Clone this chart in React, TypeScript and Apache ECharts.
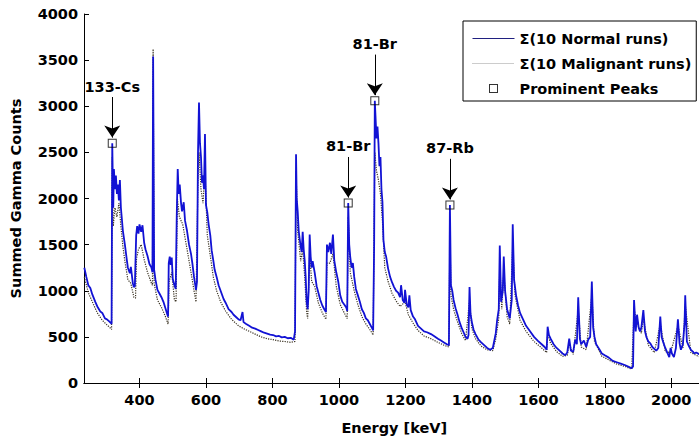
import React, { useEffect, useRef } from "react";
import * as echarts from "echarts";

const xTickValues = [400, 600, 800, 1000, 1200, 1400, 1600, 1800, 2000];
const seriesNames = ["\u03A3(10 Normal runs)", "\u03A3(10 Malignant runs)", "Prominent Peaks"];

const normalSpectrum: [number, number][] = [
  [234,1250],[240,1150],[246,1060],[252,1030],[258,960],[267,880],[273,830],[282,775],[288,760],[296,700],[302,690],[308,670],[314,650],[316,640],
  [318,2600],[321,1900],[323,2320],[326,2100],[329,2250],[332,2050],[335,2150],[338,1980],[341,2200],[344,1900],[350,1650],[356,1500],[362,1330],[365,1250],
  [371,1190],[374,1260],[380,1080],[383,1040],[386,1050],[390,1600],[393,1700],[397,1620],[400,1720],[405,1640],[409,1710],[414,1520],[418,1450],[424,1380],
  [430,1290],[436,1250],[439,1200],[441,3540],[444,1230],[448,1120],[454,1010],[460,970],[466,930],[472,880],[478,810],[484,740],[486,720],[488,1300],
  [491,1370],[494,1280],[497,1360],[500,1130],[505,1060],[509,1020],[512,1800],[515,2320],[518,2050],[521,2150],[525,1950],[528,1860],[533,1960],[537,1760],
  [543,1650],[549,1500],[555,1400],[559,1300],[564,1150],[570,1010],[573,1100],[576,2500],[579,3040],[582,2600],[585,2450],[588,2170],[591,2250],[594,2100],
  [597,2700],[600,1930],[604,1850],[608,1720],[613,1600],[617,1440],[622,1330],[626,1230],[632,1150],[638,1060],[644,1000],[653,910],[659,870],[668,800],
  [677,770],[683,740],[692,710],[698,690],[704,680],[710,770],[713,660],[721,640],[730,620],[739,600],[748,590],[757,575],[766,560],[775,545],[784,535],
  [793,525],[802,520],[811,505],[820,510],[828,495],[837,500],[846,485],[855,490],[864,470],[868,560],[871,2480],[873,2000],[876,1860],[879,1650],[882,1560],
  [885,1480],[888,1420],[891,1640],[894,1450],[897,1330],[900,1150],[903,880],[906,800],[909,1000],[912,1610],[915,1370],[918,1250],[921,1320],[927,1200],
  [933,1050],[938,980],[944,900],[950,840],[956,800],[961,770],[964,1500],[968,1420],[973,1520],[977,1400],[982,1610],[986,1330],[992,1200],[998,1100],
  [1004,950],[1010,880],[1016,850],[1022,820],[1025,780],[1028,1950],[1031,1500],[1034,1370],[1038,1250],[1042,1300],[1046,1150],[1051,1020],[1057,950],
  [1063,880],[1069,800],[1075,760],[1081,700],[1087,680],[1093,640],[1099,600],[1103,570],[1106,1500],[1108,3060],[1110,2900],[1113,2650],[1116,2780],
  [1119,2600],[1122,2350],[1125,2450],[1128,2100],[1131,1960],[1134,1550],[1138,1420],[1142,1370],[1148,1240],[1154,1150],[1160,1090],[1166,1040],[1172,1000],
  [1178,980],[1184,930],[1187,1060],[1192,900],[1197,870],[1199,1010],[1204,850],[1209,820],[1212,950],[1216,790],[1223,720],[1229,690],[1238,620],[1247,590],
  [1256,560],[1265,550],[1277,530],[1286,510],[1298,480],[1307,460],[1316,440],[1325,420],[1331,410],[1334,1930],[1337,1060],[1341,1000],[1345,900],[1351,810],
  [1357,740],[1363,660],[1369,600],[1375,550],[1381,500],[1387,480],[1390,520],[1393,1040],[1396,750],[1400,660],[1405,580],[1411,530],[1420,470],[1428,440],
  [1437,410],[1446,380],[1455,360],[1463,380],[1467,450],[1472,540],[1476,680],[1481,800],[1484,1490],[1488,880],[1493,1000],[1496,1370],[1500,1000],[1506,800],
  [1514,700],[1520,900],[1523,1720],[1527,1120],[1533,950],[1539,840],[1545,760],[1554,690],[1563,620],[1575,560],[1587,500],[1598,460],[1610,420],[1619,390],
  [1625,360],[1628,610],[1632,520],[1637,480],[1646,420],[1655,380],[1664,350],[1673,320],[1681,300],[1687,330],[1693,480],[1698,350],[1705,340],[1711,470],
  [1716,420],[1720,930],[1725,480],[1729,420],[1737,460],[1744,390],[1750,470],[1756,500],[1761,1100],[1765,600],[1769,500],[1774,420],[1783,370],[1791,320],
  [1800,300],[1812,275],[1824,240],[1836,225],[1848,210],[1860,195],[1872,175],[1881,160],[1885,180],[1888,900],[1893,560],[1897,740],[1902,600],[1906,560],
  [1910,600],[1916,790],[1921,560],[1925,500],[1931,450],[1937,430],[1943,390],[1949,370],[1955,350],[1961,380],[1967,720],[1971,500],[1976,440],[1982,380],
  [1988,330],[1994,280],[1998,380],[2002,320],[2008,280],[2014,380],[2020,690],[2025,430],[2029,360],[2035,420],[2040,650],[2042,950],[2047,450],[2053,400],
  [2059,360],[2065,340],[2069,320],[2075,330],[2085,310],[2095,290]
];

const malignantSpectrum: [number, number][] = [
  [234,1150],[246,980],[258,880],[273,760],[288,680],[302,630],[314,590],[316,580],[318,2450],[321,1700],[326,1900],[332,1800],[338,1950],[344,1700],
  [350,1480],[356,1320],[365,1120],[374,1080],[383,930],[388,920],[391,1350],[397,1450],[405,1500],[414,1340],[424,1200],[436,1080],[439,1060],[441,3620],
  [444,1080],[454,900],[466,820],[478,720],[486,640],[489,1100],[497,1200],[505,900],[510,880],[514,2000],[520,1800],[530,1720],[543,1450],[555,1200],
  [564,1000],[570,880],[576,2200],[579,2500],[585,2100],[591,1950],[597,2300],[604,1600],[613,1380],[622,1150],[632,1000],[644,880],[659,780],[677,690],
  [698,620],[713,590],[730,560],[748,530],[766,500],[784,480],[802,470],[820,455],[837,450],[855,440],[868,450],[871,2300],[876,1650],[885,1320],[891,1450],
  [897,1150],[903,760],[906,700],[912,1400],[918,1100],[927,1050],[938,870],[950,760],[961,690],[964,1300],[973,1300],[982,1400],[992,1050],[1004,850],
  [1016,760],[1025,700],[1028,1800],[1034,1200],[1046,1000],[1057,850],[1069,720],[1081,640],[1093,580],[1103,520],[1108,2500],[1113,2300],[1119,2200],
  [1125,2050],[1131,1750],[1138,1250],[1148,1100],[1160,970],[1172,890],[1184,830],[1199,880],[1209,740],[1223,650],[1238,570],[1256,510],[1277,480],
  [1298,440],[1316,410],[1331,390],[1334,1700],[1337,950],[1345,800],[1357,660],[1369,540],[1381,460],[1393,900],[1400,590],[1411,480],[1428,400],
  [1446,360],[1463,350],[1472,480],[1481,700],[1484,1300],[1490,800],[1496,1200],[1506,720],[1514,640],[1523,1500],[1530,950],[1545,680],[1563,560],
  [1587,450],[1610,380],[1625,330],[1628,530],[1637,430],[1655,340],[1673,290],[1687,300],[1693,420],[1705,310],[1720,800],[1729,390],[1744,360],
  [1761,950],[1769,450],[1791,290],[1812,250],[1836,205],[1860,180],[1881,150],[1888,800],[1897,650],[1910,540],[1916,700],[1931,410],[1949,330],
  [1967,640],[1982,340],[1998,330],[2020,620],[2035,380],[2042,850],[2059,330],[2075,300],[2095,270]
];

const peakEnergy = [318, 1028, 1108, 1334];
const peakCounts = [2600, 1950, 3060, 1930];
const peakLabels = ["133-Cs", "81-Br", "81-Br", "87-Rb"];

const FONT = "DejaVu Sans";
const FS = 14.5;
const SQUARE = "path://M0 0H9V9H0Z M1 1V8H8V1H1Z";
const BLUE = "#1212d4";
const DOT = "#3a3222";

export default function App() {
  const ref = useRef<HTMLDivElement>(null);
  useEffect(() => {
    document.documentElement.style.overflow = "hidden";
    document.body.style.margin = "0";
    const chart = echarts.init(ref.current!, null, { renderer: "svg" });
    const axisText = { color: "#000", fontFamily: FONT, fontWeight: "bold" as const, fontSize: FS };
    const plain = (v: number) => String(v);
    chart.setOption({
      animation: false,
      backgroundColor: "#fff",
      textStyle: { fontFamily: FONT },
      grid: { left: 79, top: 14, bottom: 47, right: 15.5, containLabel: false },
      xAxis: [
        {
          type: "value", min: 233, max: 2100, position: "bottom",
          name: "Energy [keV]", nameLocation: "middle", nameGap: 37,
          nameTextStyle: axisText,
          axisLine: { show: true, lineStyle: { color: "#000", width: 1 } },
          axisTick: { show: true, inside: true, length: 5, lineStyle: { color: "#000" }, customValues: xTickValues },
          axisLabel: { ...axisText, margin: 9, customValues: xTickValues, formatter: plain },
          splitLine: { show: false },
        },
        {
          type: "value", min: 233, max: 2100, position: "top",
          axisLine: { show: true, lineStyle: { color: "#000", width: 1 } },
          axisTick: { show: true, inside: true, length: 5, lineStyle: { color: "#000" }, customValues: xTickValues },
          axisLabel: { show: false },
          splitLine: { show: false },
        },
      ],
      yAxis: [
        {
          type: "value", min: 0, max: 4000, interval: 500, position: "left",
          name: "Summed Gamma Counts", nameLocation: "middle", nameGap: 61,
          nameTextStyle: axisText,
          axisLine: { show: true, lineStyle: { color: "#000", width: 1 } },
          axisTick: { show: true, inside: true, length: 5, lineStyle: { color: "#000" } },
          axisLabel: { ...axisText, margin: 6, formatter: plain },
          splitLine: { show: false },
        },
        {
          type: "value", min: 0, max: 4000, interval: 500, position: "right",
          axisLine: { show: true, lineStyle: { color: "#000", width: 1 } },
          axisTick: { show: true, inside: true, length: 5, lineStyle: { color: "#000" } },
          axisLabel: { show: false },
          splitLine: { show: false },
        },
      ],
      legend: {
        data: [
          { name: seriesNames[0], itemStyle: { opacity: 0 }, lineStyle: { color: "#202080", width: 1 } },
          { name: seriesNames[1], itemStyle: { opacity: 0 }, lineStyle: { color: "#999", width: 1, type: "dotted" } },
          { name: seriesNames[2] },
        ],
        orient: "vertical",
        left: 463, top: 21,
        padding: [10, 5, 5, 9],
        itemWidth: 42, itemHeight: 9, itemGap: 10,
        borderColor: "#000", borderWidth: 1, borderRadius: 0,
        backgroundColor: "#fff",
        textStyle: { ...axisText },
        selectedMode: false,
      },
      series: [
        {
          name: seriesNames[0], type: "line", data: normalSpectrum,
          xAxisIndex: 0, yAxisIndex: 0,
          showSymbol: false, symbol: "none",
          lineStyle: { color: BLUE, width: 1.8 },
          itemStyle: { color: BLUE },
          z: 3,
        },
        {
          name: seriesNames[1], type: "line", data: malignantSpectrum,
          xAxisIndex: 0, yAxisIndex: 0,
          showSymbol: false, symbol: "none",
          lineStyle: { color: DOT, width: 1.2, type: "dotted" },
          itemStyle: { color: DOT },
          z: 2,
        },
        {
          name: seriesNames[2], type: "scatter",
          data: peakEnergy.map((e, i) => [e, peakCounts[i]]),
          symbol: SQUARE, symbolSize: 9, symbolKeepAspect: true,
          itemStyle: { color: "#000" },
          z: 5,
        },
        {
          name: "arrows", type: "lines", coordinateSystem: "cartesian2d",
          xAxisIndex: 0, yAxisIndex: 0,
          symbol: ["none", "arrow"], symbolSize: 12,
          lineStyle: { color: "#000", width: 1, opacity: 1 },
          label: { show: true, position: "start", formatter: "{b}", distance: 3, ...axisText },
          data: peakEnergy.map((e, i) => ({
            name: peakLabels[i],
            coords: [[e, peakCounts[i] + 500], [e, peakCounts[i] + 60]],
          })),
          z: 6,
        },
      ],
    });
    return () => chart.dispose();
  }, []);
  return <div ref={ref} style={{ position: "fixed", left: 0, top: 0, width: 720, height: 440 }} />;
}
